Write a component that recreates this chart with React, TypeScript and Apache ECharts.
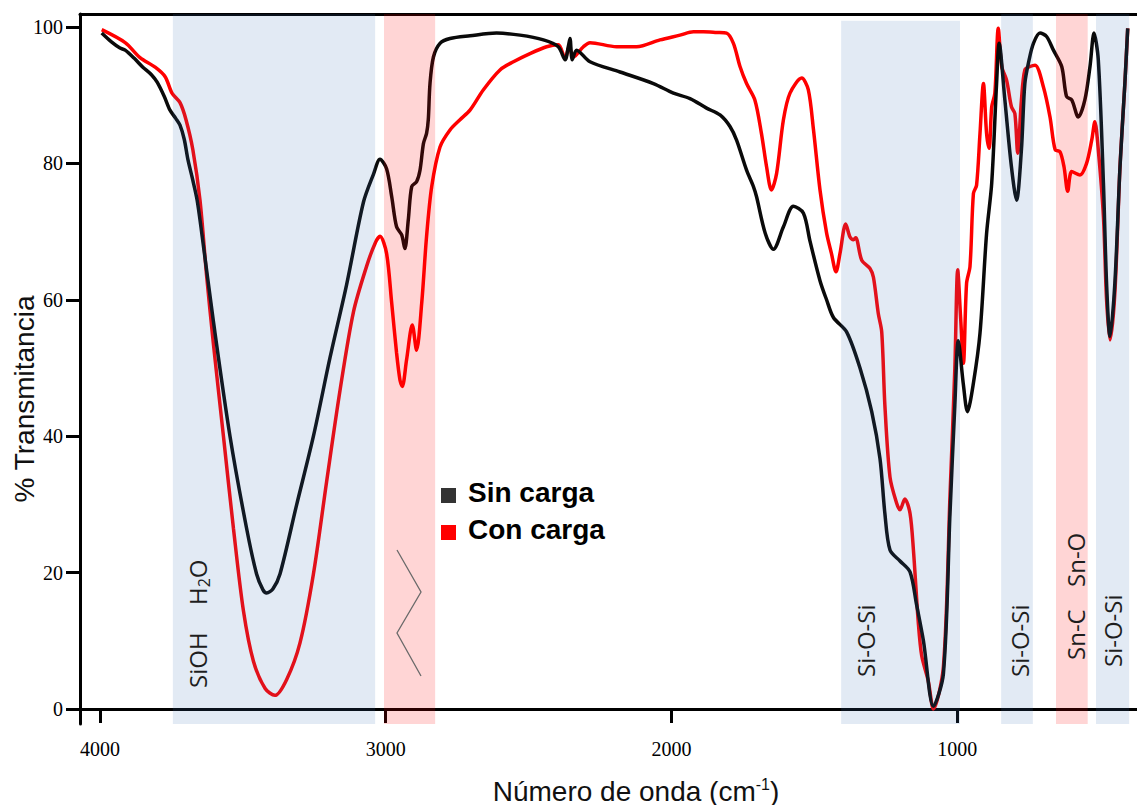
import React, { useEffect, useRef } from "react";
import * as echarts from "echarts";

// ---- data -------------------------------------------------------------
const sinCargaWn = [
  3994, 3960, 3930, 3912, 3880, 3850, 3820, 3800, 3775, 3755, 3735, 3720, 3705, 3692, 3675, 3660, 3643,
  3603, 3545, 3487, 3452, 3430, 3417, 3395, 3370, 3312, 3253, 3195, 3137, 3078, 3043, 3020, 2997, 2979,
  2962, 2944, 2933, 2921, 2909, 2892, 2880, 2868, 2857, 2851, 2845, 2833, 2810, 2775, 2705, 2612, 2530,
  2448, 2396, 2372, 2361, 2355, 2347, 2332, 2285, 2180, 2063, 1993, 1935, 1877, 1830, 1795, 1772, 1737,
  1713, 1702, 1672, 1643, 1608, 1573, 1538, 1515, 1480, 1457, 1433, 1387, 1340, 1299, 1270, 1253, 1235,
  1200, 1165, 1142, 1118, 1083, 1048, 1025, 1008, 996, 978, 964, 943, 920, 897, 879, 862, 853, 833, 810,
  792, 775, 763, 748, 733, 710, 687, 663, 634, 617, 599, 576, 553, 535, 521, 506, 488, 477, 465, 448, 430,
  413, 403,
];
const sinCargaT = [
  99.1, 97.8, 96.9, 96.6, 95.4, 94.1, 93.0, 91.9, 89.8, 87.8, 86.6, 85.6, 83.5, 80.5, 77.5, 74.6, 69.5,
  56.8, 40.0, 26.5, 19.8, 17.5, 17.0, 17.6, 19.8, 29.9, 40.0, 51.5, 62.2, 74.3, 78.4, 80.6, 79.2, 75.1,
  70.7, 69.5, 67.5, 71.7, 76.6, 77.3, 79.0, 82.9, 84.4, 86.4, 91.7, 95.6, 97.6, 98.3, 98.7, 99.1, 98.8,
  98.1, 97.1, 95.2, 97.1, 98.3, 95.2, 96.6, 94.9, 93.4, 91.7, 90.3, 89.5, 88.1, 87.1, 85.4, 83.4, 79.0,
  76.6, 75.1, 69.8, 67.4, 70.7, 73.7, 72.7, 68.6, 62.8, 60.0, 57.4, 55.3, 50.0, 43.6, 36.7, 28.7, 23.3,
  21.7, 20.1, 15.3, 10.0, 0.4, 5.2, 28.7, 44.6, 54.0, 47.5, 43.6, 47.8, 55.1, 69.7, 77.1, 91.7, 97.6, 89.3, 79.5,
  74.6, 82.0, 91.7, 95.2, 97.6, 99.1, 98.6, 96.6, 94.2, 89.8, 89.3, 86.8, 89.3, 94.2, 99.1, 95.2, 77.1, 62.4, 54.6, 62.4, 79.5,
  91.7, 99.8,
];

const conCargaWn = [
  3994, 3912, 3860, 3807, 3772, 3748, 3720, 3699, 3675, 3650, 3627, 3603, 3568, 3533, 3498, 3463, 3422,
  3388, 3347, 3300, 3253, 3207, 3160, 3113, 3067, 3037, 3020, 2997, 2979, 2962, 2950, 2942, 2927, 2907,
  2892, 2874, 2857, 2839, 2810, 2775, 2740, 2705, 2658, 2600, 2553, 2495, 2437, 2396, 2372, 2358, 2343,
  2308, 2285, 2192, 2122, 2040, 1970, 1923, 1888, 1842, 1807, 1783, 1760, 1737, 1708, 1685, 1667, 1650,
  1632, 1608, 1585, 1544, 1521, 1503, 1480, 1457, 1440, 1424, 1410, 1390, 1375, 1363, 1355, 1334, 1305,
  1293, 1276, 1264, 1253, 1235, 1212, 1200, 1183, 1165, 1153, 1136, 1124, 1101, 1083, 1048, 1025, 1008,
  998, 988, 978, 967, 955, 943, 932, 920, 908, 897, 888, 879, 868, 856, 844, 827, 810, 798, 788, 775, 763,
  745, 727, 698, 675, 657, 640, 626, 613, 599, 570, 547, 529, 518, 506, 488, 477, 465, 448, 430, 413, 403,
];
const conCargaT = [
  99.6, 97.7, 95.5, 94.1, 92.7, 90.3, 88.9, 86.4, 82.0, 74.6, 63.6, 53.5, 40.0, 26.5, 14.4, 7.0, 3.0,
  2.0, 4.3, 9.7, 19.8, 33.3, 46.7, 58.2, 64.9, 68.3, 69.3, 66.8, 59.5, 52.2, 48.2, 47.3, 51.2, 56.3,
  52.6, 59.5, 69.3, 76.6, 82.4, 84.9, 86.4, 87.8, 90.8, 93.7, 94.9, 96.1, 97.1, 97.4, 95.4, 97.1, 95.6,
  97.1, 97.7, 97.1, 97.1, 98.1, 98.8, 99.3, 99.3, 99.2, 99.1, 97.6, 94.2, 91.7, 89.3, 84.4, 79.5, 76.1,
  78.5, 86.4, 90.3, 92.5, 90.8, 85.0, 76.1, 69.8, 66.8, 64.1, 66.8, 71.1, 69.2, 68.8, 69.1, 65.8, 64.6,
  63.3, 58.0, 55.3, 44.6, 34.0, 30.2, 29.2, 30.8, 28.7, 23.3, 12.7, 7.8, 4.1, 0.0, 6.2, 31.3, 50.0,
  64.4, 57.5, 50.7, 62.4, 64.9, 75.6, 76.8, 84.4, 91.7, 84.4, 82.2, 88.3, 90.3, 99.8, 94.2, 92.2, 88.3, 87.3, 81.5, 89.3, 93.7,
  94.2, 94.4, 91.2, 86.8, 82.0, 81.7, 79.5, 75.9, 78.8, 78.3, 80.0, 83.4, 86.1, 82.0, 72.2, 60.0, 54.1, 61.0, 79.5, 91.7, 99.8,
];

const seriesNames = ["Sin carga", "Con carga"];
const xTicks = [4000, 3000, 2000, 1000];
const yTicks = [0, 20, 40, 60, 80, 100];

// shaded assignment bands (wavenumber from / to, top value, kind 0 = blue, 1 = pink)
const bandFrom = [3745, 3006, 1406, 846, 654, 514];
const bandTo = [3037, 2827, 990, 735, 543, 398];
const bandTop = [101.9, 101.9, 100.9, 101.9, 101.9, 101.9];
const bandKind = [0, 1, 0, 0, 1, 0];

const X_MIN = 370.5;
const X_MAX = 4070;
const Y_MIN = -2.2;
const Y_MAX = 101.9;

export default function App() {
  const ref = useRef<HTMLDivElement>(null);

  useEffect(() => {
    const chart = echarts.init(ref.current!, null, { renderer: "svg" });

    const sinData = sinCargaWn.map((w, i) => [w, sinCargaT[i]]);
    const conData = conCargaWn.map((w, i) => [w, conCargaT[i]]);
    const bandData = bandFrom.map((f, i) => [f, bandTo[i], bandTop[i], bandKind[i]]);

    const sans = "'Liberation Sans', Arial, sans-serif";
    const serif = "'Liberation Serif', 'Times New Roman', serif";
    const open = "'Open Sans', sans-serif";
    const labelColor = "#1e1e1e";

    const rotText = (text: string, x: number, y: number) => ({
      type: "text",
      x,
      y,
      rotation: Math.PI / 2,
      z: 30,
      style: {
        text,
        fill: labelColor,
        fontFamily: open,
        fontSize: 24,
        align: "left",
        verticalAlign: "middle",
      },
    });

    const option: any = {
      animation: false,
      backgroundColor: "#ffffff",
      grid: { left: 80, right: 0, top: 14, bottom: 81, containLabel: false },
      xAxis: [
        {
          type: "value",
          inverse: true,
          min: X_MIN,
          max: X_MAX,
          position: "bottom",
          splitLine: { show: false },
          axisLine: { show: true, lineStyle: { color: "#000", width: 3 } },
          axisTick: {
            show: true,
            customValues: xTicks,
            inside: false,
            length: 14,
            lineStyle: { color: "#000", width: 3 },
          },
          axisLabel: {
            customValues: xTicks,
            formatter: (v: number) => String(v),
            margin: 15,
            color: "#000",
            fontFamily: serif,
            fontSize: 20,
          },
        },
        {
          type: "value",
          inverse: true,
          min: X_MIN,
          max: X_MAX,
          position: "top",
          splitLine: { show: false },
          axisLine: { show: true, lineStyle: { color: "#000", width: 3 } },
          axisTick: { show: false },
          axisLabel: { show: false },
        },
      ],
      yAxis: {
        type: "value",
        min: Y_MIN,
        max: Y_MAX,
        splitLine: { show: false },
        axisLine: { show: true, lineStyle: { color: "#000", width: 3 } },
        axisTick: {
          show: true,
          customValues: yTicks,
          length: 14,
          lineStyle: { color: "#000", width: 3 },
        },
        axisLabel: {
          customValues: yTicks,
          formatter: (v: number) => String(v),
          margin: 17,
          color: "#000",
          fontFamily: serif,
          fontSize: 20,
          padding: [0, 0, 5, 0],
        },
      },
      series: [
        {
          name: seriesNames[1],
          type: "line",
          data: conData,
          showSymbol: false,
          smooth: 0.3,
          z: 2,
          lineStyle: { color: "#ff0000", width: 3.5 },
          itemStyle: { color: "#ff0000" },
        },
        {
          name: seriesNames[0],
          type: "line",
          data: sinData,
          showSymbol: false,
          smooth: 0.3,
          z: 3,
          lineStyle: { color: "#0a0a0a", width: 3.5 },
          itemStyle: { color: "#0a0a0a" },
        },
        {
          type: "custom",
          z: 10,
          silent: true,
          clip: false,
          data: bandData,
          encode: { x: [0, 1], y: 2 },
          renderItem: (_p: any, api: any) => {
            const a = api.coord([api.value(0), api.value(2)]);
            const b = api.coord([api.value(1), Y_MIN]);
            const blue = api.value(3) === 0;
            return {
              type: "rect",
              shape: {
                x: Math.min(a[0], b[0]),
                y: a[1],
                width: Math.abs(b[0] - a[0]),
                height: b[1] - a[1],
              },
              style: {
                fill: blue ? "rgba(62,115,182,0.15)" : "rgba(255,0,0,0.165)",
              },
            };
          },
        },
      ],
      graphic: [
        // axis titles
        {
          type: "text",
          x: 24,
          y: 399,
          rotation: Math.PI / 2,
          style: {
            text: "% Transmitancia",
            fill: "#111",
            fontFamily: sans,
            fontSize: 28,
            align: "center",
            verticalAlign: "middle",
          },
        },
        {
          type: "text",
          x: 636,
          y: 791,
          style: {
            text: "{a|Número de onda (cm}{s|-1}{a|)}",
            align: "center",
            verticalAlign: "middle",
            rich: {
              a: { fontFamily: sans, fontSize: 28, lineHeight: 30, fill: "#111" },
              s: { fontFamily: sans, fontSize: 16, lineHeight: 18, verticalAlign: "top", fill: "#111" },
            },
          },
        },
        // legend
        { type: "rect", shape: { x: 441, y: 488, width: 15, height: 15 }, style: { fill: "#333333" }, z: 30 },
        { type: "rect", shape: { x: 441, y: 525, width: 15, height: 15 }, style: { fill: "#ff0000" }, z: 30 },
        {
          type: "text",
          x: 468,
          y: 492,
          z: 30,
          style: {
            text: seriesNames[0],
            fill: "#000",
            fontFamily: sans,
            fontWeight: "bold",
            fontSize: 28,
            align: "left",
            verticalAlign: "middle",
          },
        },
        {
          type: "text",
          x: 468,
          y: 529,
          z: 30,
          style: {
            text: seriesNames[1],
            fill: "#000",
            fontFamily: sans,
            fontWeight: "bold",
            fontSize: 28,
            align: "left",
            verticalAlign: "middle",
          },
        },
        // CH2 zig-zag symbol
        {
          type: "polyline",
          z: 30,
          shape: { points: [[397, 550], [421, 592], [397, 633], [421, 676]] },
          style: { stroke: "#6a6a6a", lineWidth: 1.3, fill: "none" },
        },
        // band labels
        rotText("SiOH", 197, 688),
        {
          type: "text",
          x: 197,
          y: 605,
          rotation: Math.PI / 2,
          z: 30,
          style: {
            text: "{a|H}{b|2}{a|O}",
            align: "left",
            verticalAlign: "middle",
            rich: {
              a: { fontFamily: open, fontSize: 24, lineHeight: 30, fill: labelColor },
              b: { fontFamily: open, fontSize: 16, lineHeight: 10, verticalAlign: "bottom", fill: labelColor },
            },
          },
        },
        rotText("Si-O-Si", 865, 677),
        rotText("Si-O-Si", 1019, 677),
        rotText("Sn-C", 1075, 660),
        rotText("Sn-O", 1075, 587),
        rotText("Si-O-Si", 1112, 667),
      ],
    };

    chart.setOption(option);
    return () => chart.dispose();
  }, []);

  return (
    <div
      ref={ref}
      style={{ position: "absolute", left: 0, top: 0, width: 1137, height: 805, background: "#fff" }}
    />
  );
}
